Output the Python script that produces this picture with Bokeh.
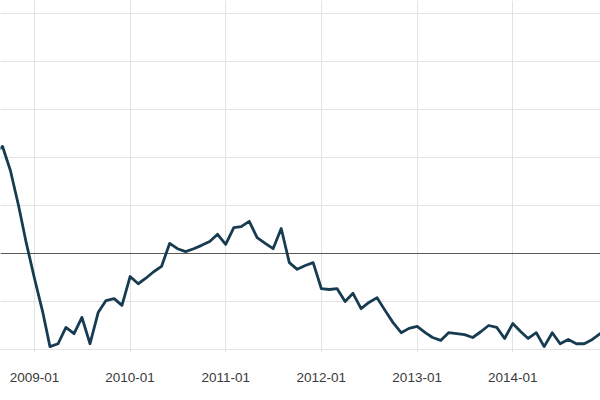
import pandas as pd
from datetime import datetime, timedelta
from bokeh.plotting import figure
from bokeh.layouts import column
from bokeh.models import ColumnDataSource, Range1d, FixedTicker, DatetimeTickFormatter, Span, Label, Div
from bokeh.embed import file_html
from bokeh.resources import INLINE

# monthly series, 2008-08 .. 2015-01
months = pd.date_range('2008-08-01', '2015-01-01', freq='MS')
values = [2.10, 2.23, 1.73, 1.00, 0.21, -0.52, -1.21, -1.94, -1.88, -1.54, -1.67, -1.33,
          -1.88, -1.23, -0.98, -0.94, -1.08, -0.48, -0.63, -0.52, -0.38, -0.27, 0.21, 0.10,
          0.04, 0.10, 0.17, 0.25, 0.40, 0.19, 0.54, 0.56, 0.67, 0.33, 0.21, 0.10,
          0.52, -0.19, -0.33, -0.25, -0.19, -0.73, -0.75, -0.73, -1.00, -0.83, -1.15, -1.02,
          -0.92, -1.19, -1.44, -1.65, -1.56, -1.52, -1.65, -1.75, -1.81, -1.65, -1.67, -1.69,
          -1.75, -1.63, -1.50, -1.54, -1.77, -1.46, -1.63, -1.77, -1.65, -1.94, -1.65, -1.88,
          -1.79, -1.88, -1.88, -1.79, -1.67, -1.60]
tick_labels = ['2009-01', '2010-01', '2011-01', '2012-01', '2013-01', '2014-01', '2015-01']
y_ticks = [-2, -1, 0, 1, 2, 3, 4, 5]
reference_level = 0

df = pd.DataFrame({'Date': months, 'Value': values})
source = ColumnDataSource(df)

grid_color = '#e3e3e3'
px_per_year = 95.66
origin = datetime(2009, 1, 1)
x_start = origin - timedelta(days=34 / px_per_year * 365.25)
x_end = origin + timedelta(days=566 / px_per_year * 365.25)

tick_dates = [datetime.strptime(t, '%Y-%m') for t in tick_labels]
tick_ms = [(d - datetime(1970, 1, 1)).total_seconds() * 1000 for d in tick_dates]

p = figure(width=600, height=397, x_axis_type='datetime',
           x_range=Range1d(x_start, x_end), y_range=Range1d(-2.0, 253 / 48),
           output_backend='svg', toolbar_location=None,
           min_border_left=0, min_border_right=0, min_border_top=0, min_border_bottom=48)
p.outline_line_color = None
p.yaxis.visible = False

p.xaxis.ticker = FixedTicker(ticks=tick_ms)
p.xaxis.formatter = DatetimeTickFormatter(days='%Y-%m', months='%Y-%m', years='%Y-%m')
p.xaxis.axis_line_color = grid_color
p.xaxis.major_tick_line_color = grid_color
p.xaxis.major_tick_in = 0
p.xaxis.major_tick_out = 3
p.xaxis.minor_tick_line_color = None
p.xaxis.major_label_standoff = 20
p.xaxis.major_label_text_font = 'Liberation Sans'
p.xaxis.major_label_text_font_size = '13.5px'
p.xaxis.major_label_text_color = '#3a3a3a'

p.xgrid.ticker = FixedTicker(ticks=tick_ms)
p.ygrid.ticker = FixedTicker(ticks=y_ticks)
p.xgrid.grid_line_color = grid_color
p.ygrid.grid_line_color = grid_color

zero = Span(location=reference_level, dimension='width', line_color='#5a5a5a', line_width=1, level='underlay')
p.add_layout(zero)

p.line(x='Date', y='Value', source=source, line_color='#173c52', line_width=2.8, line_join='round')

# last tick sits just past the right edge, only its start shows
last = Label(x=tick_ms[-1], y=-2.0 - 23 / 48, text=tick_labels[-1], text_align='center',
             text_baseline='top', text_font='Liberation Sans', text_font_size='13.5px',
             text_color='#3a3a3a')
p.add_layout(last)

rule = Div(text='', width=600, height=2, styles={'border-top': '1px solid #cccccc'})

open("out.html", "w").write(file_html(column(p, rule, spacing=0), INLINE))
